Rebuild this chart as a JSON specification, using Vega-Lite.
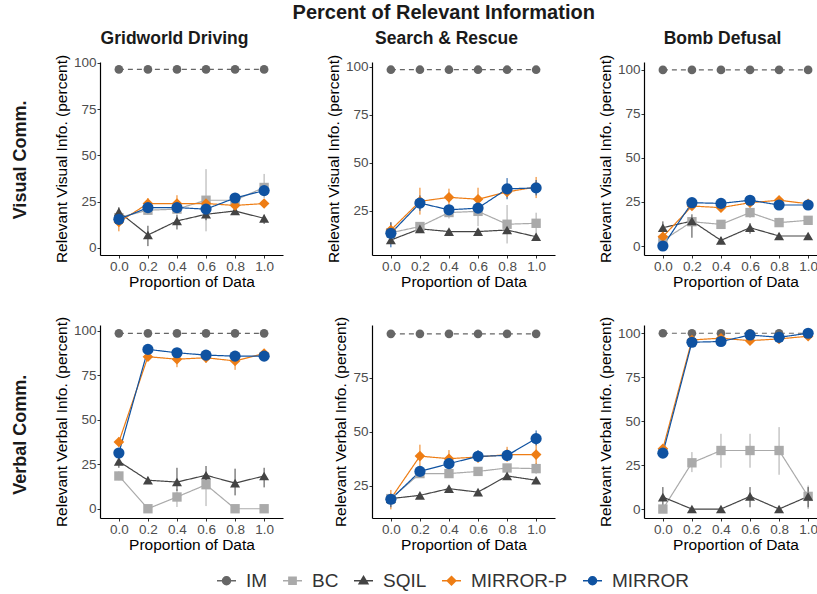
{
"$schema": "https://vega.github.io/schema/vega-lite/v6.json",
"padding": {"left": 12, "top": 2, "right": 5, "bottom": 5},
"background": "white",
"title": {"text": "Percent of Relevant Information", "fontSize": 20, "fontWeight": "bold", "anchor": "middle", "color": "#1a1a1a", "offset": 7, "dx": 24},
"config": {
  "font": "Liberation Sans",
  "view": {"stroke": null},
  "axis": {"grid": false, "domainColor": "#000000", "domainWidth": 1.2, "tickColor": "#333333", "tickSize": 3, "labelColor": "#4d4d4d", "labelFontSize": 13.5, "titleFontSize": 15.5, "titleFontWeight": "normal", "titleColor": "#000000", "labelPadding": 1},
  "axisX": {"titlePadding": 2},
  "axisY": {"titlePadding": 4}
},
"datasets": {"d": [
{"e":"GD","c":"V","m":"IM","p":0,"v":96.5,"lo":96.5,"hi":96.5},
{"e":"GD","c":"V","m":"IM","p":0.2,"v":96.5,"lo":96.5,"hi":96.5},
{"e":"GD","c":"V","m":"IM","p":0.4,"v":96.5,"lo":96.5,"hi":96.5},
{"e":"GD","c":"V","m":"IM","p":0.6,"v":96.5,"lo":96.5,"hi":96.5},
{"e":"GD","c":"V","m":"IM","p":0.8,"v":96.5,"lo":96.5,"hi":96.5},
{"e":"GD","c":"V","m":"IM","p":1,"v":96.5,"lo":96.5,"hi":96.5},
{"e":"GD","c":"V","m":"BC","p":0,"v":16.4,"lo":15,"hi":18},
{"e":"GD","c":"V","m":"BC","p":0.2,"v":20.4,"lo":18,"hi":23},
{"e":"GD","c":"V","m":"BC","p":0.4,"v":21,"lo":19,"hi":23},
{"e":"GD","c":"V","m":"BC","p":0.6,"v":25.8,"lo":9,"hi":42.6},
{"e":"GD","c":"V","m":"BC","p":0.8,"v":25.8,"lo":24,"hi":28},
{"e":"GD","c":"V","m":"BC","p":1,"v":32.7,"lo":27,"hi":40},
{"e":"GD","c":"V","m":"SQIL","p":0,"v":19.5,"lo":17,"hi":22},
{"e":"GD","c":"V","m":"SQIL","p":0.2,"v":7,"lo":1,"hi":12},
{"e":"GD","c":"V","m":"SQIL","p":0.4,"v":14.6,"lo":10,"hi":18},
{"e":"GD","c":"V","m":"SQIL","p":0.6,"v":18.2,"lo":15,"hi":21},
{"e":"GD","c":"V","m":"SQIL","p":0.8,"v":20,"lo":18,"hi":22},
{"e":"GD","c":"V","m":"SQIL","p":1,"v":16,"lo":13,"hi":18},
{"e":"GD","c":"V","m":"MIRROR-P","p":0,"v":14,"lo":9,"hi":18},
{"e":"GD","c":"V","m":"MIRROR-P","p":0.2,"v":24,"lo":21,"hi":27},
{"e":"GD","c":"V","m":"MIRROR-P","p":0.4,"v":24,"lo":20,"hi":28.5},
{"e":"GD","c":"V","m":"MIRROR-P","p":0.6,"v":24,"lo":22,"hi":26},
{"e":"GD","c":"V","m":"MIRROR-P","p":0.8,"v":23,"lo":21,"hi":25},
{"e":"GD","c":"V","m":"MIRROR-P","p":1,"v":24,"lo":23,"hi":25},
{"e":"GD","c":"V","m":"MIRROR","p":0,"v":15.5,"lo":13,"hi":18},
{"e":"GD","c":"V","m":"MIRROR","p":0.2,"v":21.8,"lo":19,"hi":25},
{"e":"GD","c":"V","m":"MIRROR","p":0.4,"v":21.8,"lo":19,"hi":24},
{"e":"GD","c":"V","m":"MIRROR","p":0.6,"v":21,"lo":18,"hi":24},
{"e":"GD","c":"V","m":"MIRROR","p":0.8,"v":27,"lo":25,"hi":29},
{"e":"GD","c":"V","m":"MIRROR","p":1,"v":31,"lo":29,"hi":33},

{"e":"SR","c":"V","m":"IM","p":0,"v":98.4,"lo":98.4,"hi":98.4},
{"e":"SR","c":"V","m":"IM","p":0.2,"v":98.4,"lo":98.4,"hi":98.4},
{"e":"SR","c":"V","m":"IM","p":0.4,"v":98.4,"lo":98.4,"hi":98.4},
{"e":"SR","c":"V","m":"IM","p":0.6,"v":98.4,"lo":98.4,"hi":98.4},
{"e":"SR","c":"V","m":"IM","p":0.8,"v":98.4,"lo":98.4,"hi":98.4},
{"e":"SR","c":"V","m":"IM","p":1,"v":98.4,"lo":98.4,"hi":98.4},
{"e":"SR","c":"V","m":"BC","p":0,"v":13.6,"lo":11,"hi":16},
{"e":"SR","c":"V","m":"BC","p":0.2,"v":16.8,"lo":14,"hi":19},
{"e":"SR","c":"V","m":"BC","p":0.4,"v":24.1,"lo":21,"hi":27},
{"e":"SR","c":"V","m":"BC","p":0.6,"v":24.7,"lo":17,"hi":33},
{"e":"SR","c":"V","m":"BC","p":0.8,"v":18,"lo":8,"hi":28},
{"e":"SR","c":"V","m":"BC","p":1,"v":18.5,"lo":12,"hi":24},
{"e":"SR","c":"V","m":"SQIL","p":0,"v":9.8,"lo":8,"hi":12},
{"e":"SR","c":"V","m":"SQIL","p":0.2,"v":15.6,"lo":14,"hi":17},
{"e":"SR","c":"V","m":"SQIL","p":0.4,"v":14.2,"lo":13,"hi":15.5},
{"e":"SR","c":"V","m":"SQIL","p":0.6,"v":14.2,"lo":13,"hi":15.5},
{"e":"SR","c":"V","m":"SQIL","p":0.8,"v":15,"lo":13,"hi":17},
{"e":"SR","c":"V","m":"SQIL","p":1,"v":11.5,"lo":10,"hi":13},
{"e":"SR","c":"V","m":"MIRROR-P","p":0,"v":15,"lo":10,"hi":19},
{"e":"SR","c":"V","m":"MIRROR-P","p":0.2,"v":29.9,"lo":23,"hi":37},
{"e":"SR","c":"V","m":"MIRROR-P","p":0.4,"v":32,"lo":28,"hi":36.5},
{"e":"SR","c":"V","m":"MIRROR-P","p":0.6,"v":31,"lo":26,"hi":37},
{"e":"SR","c":"V","m":"MIRROR-P","p":0.8,"v":34.8,"lo":32,"hi":37},
{"e":"SR","c":"V","m":"MIRROR-P","p":1,"v":37.4,"lo":31.6,"hi":42.6},
{"e":"SR","c":"V","m":"MIRROR","p":0,"v":13.3,"lo":6,"hi":19},
{"e":"SR","c":"V","m":"MIRROR","p":0.2,"v":29,"lo":25,"hi":33},
{"e":"SR","c":"V","m":"MIRROR","p":0.4,"v":25.5,"lo":23,"hi":28},
{"e":"SR","c":"V","m":"MIRROR","p":0.6,"v":26.4,"lo":24,"hi":29},
{"e":"SR","c":"V","m":"MIRROR","p":0.8,"v":36.4,"lo":31,"hi":42},
{"e":"SR","c":"V","m":"MIRROR","p":1,"v":36.9,"lo":33,"hi":41},

{"e":"BD","c":"V","m":"IM","p":0,"v":100,"lo":100,"hi":100},
{"e":"BD","c":"V","m":"IM","p":0.2,"v":100,"lo":100,"hi":100},
{"e":"BD","c":"V","m":"IM","p":0.4,"v":100,"lo":100,"hi":100},
{"e":"BD","c":"V","m":"IM","p":0.6,"v":100,"lo":100,"hi":100},
{"e":"BD","c":"V","m":"IM","p":0.8,"v":100,"lo":100,"hi":100},
{"e":"BD","c":"V","m":"IM","p":1,"v":100,"lo":100,"hi":100},
{"e":"BD","c":"V","m":"BC","p":0,"v":3.2,"lo":1,"hi":5.5},
{"e":"BD","c":"V","m":"BC","p":0.2,"v":13.8,"lo":11,"hi":16},
{"e":"BD","c":"V","m":"BC","p":0.4,"v":12.3,"lo":10.5,"hi":14},
{"e":"BD","c":"V","m":"BC","p":0.6,"v":19,"lo":16,"hi":22},
{"e":"BD","c":"V","m":"BC","p":0.8,"v":13.3,"lo":11,"hi":16},
{"e":"BD","c":"V","m":"BC","p":1,"v":14.6,"lo":13,"hi":16},
{"e":"BD","c":"V","m":"SQIL","p":0,"v":10.4,"lo":7,"hi":14},
{"e":"BD","c":"V","m":"SQIL","p":0.2,"v":14.2,"lo":4.7,"hi":18},
{"e":"BD","c":"V","m":"SQIL","p":0.4,"v":3.2,"lo":1,"hi":5},
{"e":"BD","c":"V","m":"SQIL","p":0.6,"v":10.4,"lo":7,"hi":13},
{"e":"BD","c":"V","m":"SQIL","p":0.8,"v":5.7,"lo":4,"hi":7},
{"e":"BD","c":"V","m":"SQIL","p":1,"v":5.7,"lo":4,"hi":7},
{"e":"BD","c":"V","m":"MIRROR-P","p":0,"v":5.3,"lo":3,"hi":7.5},
{"e":"BD","c":"V","m":"MIRROR-P","p":0.2,"v":22.7,"lo":21,"hi":24.5},
{"e":"BD","c":"V","m":"MIRROR-P","p":0.4,"v":21.8,"lo":20,"hi":23.5},
{"e":"BD","c":"V","m":"MIRROR-P","p":0.6,"v":24.6,"lo":23,"hi":26},
{"e":"BD","c":"V","m":"MIRROR-P","p":0.8,"v":26,"lo":24.5,"hi":27.5},
{"e":"BD","c":"V","m":"MIRROR-P","p":1,"v":24,"lo":23,"hi":25},
{"e":"BD","c":"V","m":"MIRROR","p":0,"v":0,"lo":0,"hi":1.5},
{"e":"BD","c":"V","m":"MIRROR","p":0.2,"v":24.6,"lo":23,"hi":26},
{"e":"BD","c":"V","m":"MIRROR","p":0.4,"v":24.2,"lo":22.5,"hi":26},
{"e":"BD","c":"V","m":"MIRROR","p":0.6,"v":26,"lo":24.5,"hi":27.5},
{"e":"BD","c":"V","m":"MIRROR","p":0.8,"v":23.3,"lo":22,"hi":24.5},
{"e":"BD","c":"V","m":"MIRROR","p":1,"v":23.3,"lo":22,"hi":24.5},

{"e":"GD","c":"B","m":"IM","p":0,"v":98.5,"lo":98.5,"hi":98.5},
{"e":"GD","c":"B","m":"IM","p":0.2,"v":98.5,"lo":98.5,"hi":98.5},
{"e":"GD","c":"B","m":"IM","p":0.4,"v":98.5,"lo":98.5,"hi":98.5},
{"e":"GD","c":"B","m":"IM","p":0.6,"v":98.5,"lo":98.5,"hi":98.5},
{"e":"GD","c":"B","m":"IM","p":0.8,"v":98.5,"lo":98.5,"hi":98.5},
{"e":"GD","c":"B","m":"IM","p":1,"v":98.5,"lo":98.5,"hi":98.5},
{"e":"GD","c":"B","m":"BC","p":0,"v":18.4,"lo":16,"hi":21},
{"e":"GD","c":"B","m":"BC","p":0.2,"v":0,"lo":0,"hi":0},
{"e":"GD","c":"B","m":"BC","p":0.4,"v":6.6,"lo":1,"hi":11},
{"e":"GD","c":"B","m":"BC","p":0.6,"v":13.5,"lo":1.5,"hi":20.6},
{"e":"GD","c":"B","m":"BC","p":0.8,"v":0,"lo":0,"hi":0},
{"e":"GD","c":"B","m":"BC","p":1,"v":0,"lo":0,"hi":0},
{"e":"GD","c":"B","m":"SQIL","p":0,"v":26.6,"lo":23,"hi":30},
{"e":"GD","c":"B","m":"SQIL","p":0.2,"v":16,"lo":14,"hi":18},
{"e":"GD","c":"B","m":"SQIL","p":0.4,"v":15,"lo":10,"hi":23},
{"e":"GD","c":"B","m":"SQIL","p":0.6,"v":18.8,"lo":14,"hi":24},
{"e":"GD","c":"B","m":"SQIL","p":0.8,"v":14.4,"lo":7.5,"hi":22.5},
{"e":"GD","c":"B","m":"SQIL","p":1,"v":18.4,"lo":12,"hi":23},
{"e":"GD","c":"B","m":"MIRROR-P","p":0,"v":37.5,"lo":35,"hi":40},
{"e":"GD","c":"B","m":"MIRROR-P","p":0.2,"v":85.4,"lo":83,"hi":88},
{"e":"GD","c":"B","m":"MIRROR-P","p":0.4,"v":84,"lo":79.5,"hi":87},
{"e":"GD","c":"B","m":"MIRROR-P","p":0.6,"v":84.8,"lo":82,"hi":87.5},
{"e":"GD","c":"B","m":"MIRROR-P","p":0.8,"v":83,"lo":78,"hi":86},
{"e":"GD","c":"B","m":"MIRROR-P","p":1,"v":87.2,"lo":85,"hi":89},
{"e":"GD","c":"B","m":"MIRROR","p":0,"v":31.3,"lo":29,"hi":33.5},
{"e":"GD","c":"B","m":"MIRROR","p":0.2,"v":89.5,"lo":87.5,"hi":91.5},
{"e":"GD","c":"B","m":"MIRROR","p":0.4,"v":87.6,"lo":86,"hi":89},
{"e":"GD","c":"B","m":"MIRROR","p":0.6,"v":86.3,"lo":83.5,"hi":89},
{"e":"GD","c":"B","m":"MIRROR","p":0.8,"v":85.7,"lo":84,"hi":87.5},
{"e":"GD","c":"B","m":"MIRROR","p":1,"v":85.7,"lo":83.5,"hi":88},

{"e":"SR","c":"B","m":"IM","p":0,"v":95.4,"lo":95.4,"hi":95.4},
{"e":"SR","c":"B","m":"IM","p":0.2,"v":95.4,"lo":95.4,"hi":95.4},
{"e":"SR","c":"B","m":"IM","p":0.4,"v":95.4,"lo":95.4,"hi":95.4},
{"e":"SR","c":"B","m":"IM","p":0.6,"v":95.4,"lo":95.4,"hi":95.4},
{"e":"SR","c":"B","m":"IM","p":0.8,"v":95.4,"lo":95.4,"hi":95.4},
{"e":"SR","c":"B","m":"IM","p":1,"v":95.4,"lo":95.4,"hi":95.4},
{"e":"SR","c":"B","m":"BC","p":0,"v":19,"lo":17,"hi":21},
{"e":"SR","c":"B","m":"BC","p":0.2,"v":30.6,"lo":29,"hi":32},
{"e":"SR","c":"B","m":"BC","p":0.4,"v":30.6,"lo":29,"hi":32},
{"e":"SR","c":"B","m":"BC","p":0.6,"v":31.6,"lo":30,"hi":33},
{"e":"SR","c":"B","m":"BC","p":0.8,"v":33.2,"lo":31.5,"hi":35},
{"e":"SR","c":"B","m":"BC","p":1,"v":32.9,"lo":30.5,"hi":35.5},
{"e":"SR","c":"B","m":"SQIL","p":0,"v":19,"lo":17.5,"hi":20.5},
{"e":"SR","c":"B","m":"SQIL","p":0.2,"v":20.5,"lo":19.5,"hi":21.5},
{"e":"SR","c":"B","m":"SQIL","p":0.4,"v":23.6,"lo":22,"hi":25},
{"e":"SR","c":"B","m":"SQIL","p":0.6,"v":22,"lo":21,"hi":23},
{"e":"SR","c":"B","m":"SQIL","p":0.8,"v":29.5,"lo":28,"hi":31},
{"e":"SR","c":"B","m":"SQIL","p":1,"v":27.5,"lo":26.5,"hi":28.5},
{"e":"SR","c":"B","m":"MIRROR-P","p":0,"v":19,"lo":14,"hi":23},
{"e":"SR","c":"B","m":"MIRROR-P","p":0.2,"v":38.7,"lo":33,"hi":44},
{"e":"SR","c":"B","m":"MIRROR-P","p":0.4,"v":37.5,"lo":33,"hi":41.5},
{"e":"SR","c":"B","m":"MIRROR-P","p":0.6,"v":38.3,"lo":35.5,"hi":41},
{"e":"SR","c":"B","m":"MIRROR-P","p":0.8,"v":39.4,"lo":36,"hi":43},
{"e":"SR","c":"B","m":"MIRROR-P","p":1,"v":39.4,"lo":34.4,"hi":46},
{"e":"SR","c":"B","m":"MIRROR","p":0,"v":18.7,"lo":15,"hi":21},
{"e":"SR","c":"B","m":"MIRROR","p":0.2,"v":31.6,"lo":29,"hi":34},
{"e":"SR","c":"B","m":"MIRROR","p":0.4,"v":35.2,"lo":33,"hi":37.5},
{"e":"SR","c":"B","m":"MIRROR","p":0.6,"v":38.6,"lo":36,"hi":41.5},
{"e":"SR","c":"B","m":"MIRROR","p":0.8,"v":39,"lo":36.5,"hi":41.5},
{"e":"SR","c":"B","m":"MIRROR","p":1,"v":46.8,"lo":43.7,"hi":50.6},

{"e":"BD","c":"B","m":"IM","p":0,"v":100,"lo":100,"hi":100},
{"e":"BD","c":"B","m":"IM","p":0.2,"v":100,"lo":100,"hi":100},
{"e":"BD","c":"B","m":"IM","p":0.4,"v":100,"lo":100,"hi":100},
{"e":"BD","c":"B","m":"IM","p":0.6,"v":100,"lo":100,"hi":100},
{"e":"BD","c":"B","m":"IM","p":0.8,"v":100,"lo":100,"hi":100},
{"e":"BD","c":"B","m":"IM","p":1,"v":100,"lo":100,"hi":100},
{"e":"BD","c":"B","m":"BC","p":0,"v":0,"lo":0,"hi":0},
{"e":"BD","c":"B","m":"BC","p":0.2,"v":26.3,"lo":21,"hi":32.4},
{"e":"BD","c":"B","m":"BC","p":0.4,"v":33.3,"lo":23.5,"hi":42.8},
{"e":"BD","c":"B","m":"BC","p":0.6,"v":33.3,"lo":23.5,"hi":42.8},
{"e":"BD","c":"B","m":"BC","p":0.8,"v":33.3,"lo":19.5,"hi":46.6},
{"e":"BD","c":"B","m":"BC","p":1,"v":7.2,"lo":0,"hi":13.4},
{"e":"BD","c":"B","m":"SQIL","p":0,"v":6.8,"lo":1,"hi":12.5},
{"e":"BD","c":"B","m":"SQIL","p":0.2,"v":0,"lo":0,"hi":0},
{"e":"BD","c":"B","m":"SQIL","p":0.4,"v":0,"lo":0,"hi":0},
{"e":"BD","c":"B","m":"SQIL","p":0.6,"v":7.2,"lo":1,"hi":12.5},
{"e":"BD","c":"B","m":"SQIL","p":0.8,"v":0,"lo":0,"hi":0},
{"e":"BD","c":"B","m":"SQIL","p":1,"v":7.2,"lo":1,"hi":12.5},
{"e":"BD","c":"B","m":"MIRROR-P","p":0,"v":34.3,"lo":32.5,"hi":36},
{"e":"BD","c":"B","m":"MIRROR-P","p":0.2,"v":96.2,"lo":95,"hi":97.5},
{"e":"BD","c":"B","m":"MIRROR-P","p":0.4,"v":97.2,"lo":96,"hi":98.5},
{"e":"BD","c":"B","m":"MIRROR-P","p":0.6,"v":95.8,"lo":94.5,"hi":97},
{"e":"BD","c":"B","m":"MIRROR-P","p":0.8,"v":96.8,"lo":95.5,"hi":98},
{"e":"BD","c":"B","m":"MIRROR-P","p":1,"v":98.3,"lo":97,"hi":99.5},
{"e":"BD","c":"B","m":"MIRROR","p":0,"v":31.8,"lo":30.5,"hi":33},
{"e":"BD","c":"B","m":"MIRROR","p":0.2,"v":94.9,"lo":93.5,"hi":96.3},
{"e":"BD","c":"B","m":"MIRROR","p":0.4,"v":95.3,"lo":94,"hi":96.5},
{"e":"BD","c":"B","m":"MIRROR","p":0.6,"v":99,"lo":97.5,"hi":100},
{"e":"BD","c":"B","m":"MIRROR","p":0.8,"v":97.7,"lo":96.5,"hi":99},
{"e":"BD","c":"B","m":"MIRROR","p":1,"v":100,"lo":99,"hi":100}
]},
"data": {"name": "d"},
"spacing": 26,
"vconcat": [
{
 "title": {"text": "Visual Comm.", "orient": "left", "anchor": "middle", "fontSize": 18, "fontWeight": "bold", "color": "#1a1a1a", "offset": 24},
 "bounds": "flush",
 "spacing": 89,
 "hconcat": [
  {
   "width": 183, "height": 193,
   "title": {"text": "Gridworld Driving", "fontSize": 17.5, "fontWeight": "bold", "color": "#1a1a1a", "offset": 7, "dx": -17},
   "transform": [{"filter": "datum.e === 'GD' && datum.c === 'V'"}],
   "encoding": {
    "x": {"field": "p", "type": "quantitative", "scale": {"domain": [-0.13, 1.13], "nice": false, "zero": false}, "axis": {"values": [0, 0.2, 0.4, 0.6, 0.8, 1], "format": ".1f", "title": "Proportion of Data"}},
    "y": {"field": "v", "type": "quantitative", "scale": {"domain": [-3.8, 100.5], "nice": false, "zero": false}, "axis": {"values": [0, 25, 50, 75, 100]}, "title": "Relevant Visual Info. (percent)"},
    "color": {"field": "m", "type": "nominal", "scale": {"domain": ["IM", "BC", "SQIL", "MIRROR-P", "MIRROR"], "range": ["#666666", "#AAAAAA", "#444444", "#EE7D14", "#0F52A1"]},
     "legend": {"title": null, "orient": "none", "legendX": 116, "legendY": 508, "direction": "horizontal", "labelFontSize": 19, "labelColor": "#333333", "symbolSize": 361, "symbolStrokeWidth": 1.5, "labelOffset": 9, "columnPadding": 12,
      "encoding": {"symbols": {
        "shape": {"value": {"expr": "datum.value === 'BC' ? 'M-1,0L1,0M-0.38,-0.38L0.38,-0.38L0.38,0.38L-0.38,0.38Z' : datum.value === 'SQIL' ? 'M-1,0L1,0M0,-0.46L0.46,0.32L-0.46,0.32Z' : datum.value === 'MIRROR-P' ? 'M-1,0L1,0M0,-0.45L0.45,0L0,0.45L-0.45,0Z' : 'M-1,0L1,0M0.42,0A0.42,0.42,0,1,1,-0.42,0A0.42,0.42,0,1,1,0.42,0Z'"}},
        "size": {"value": 361},
        "fill": {"value": {"expr": "scale('color', datum.value)"}},
        "stroke": {"value": {"expr": "scale('color', datum.value)"}},
        "strokeWidth": {"value": 1.5},
        "opacity": {"value": 1}}}}}
   },
   "layer": [
    {"mark": {"type": "line", "strokeWidth": 1.2}, "encoding": {"strokeDash": {"field": "m", "type": "nominal", "scale": {"domain": ["MIRROR", "MIRROR-P", "SQIL", "BC", "IM"], "range": [[1, 0], [1, 0], [1, 0], [1, 0], [5, 4]]}, "legend": null}}},
    {"mark": {"type": "rule", "strokeWidth": 1}, "encoding": {"y": {"field": "lo", "type": "quantitative", "title": "Relevant Visual Info. (percent)"}, "y2": {"field": "hi"}}},
    {"mark": {"type": "point", "filled": true, "opacity": 1}, "encoding": {
      "shape": {"field": "m", "type": "nominal", "scale": {"domain": ["MIRROR", "MIRROR-P", "SQIL", "BC", "IM"], "range": ["circle", "diamond", "triangle-up", "square", "circle"]}, "legend": null},
      "size": {"field": "m", "type": "nominal", "scale": {"domain": ["MIRROR", "MIRROR-P", "SQIL", "BC", "IM"], "range": [125, 75, 120, 100, 80]}, "legend": null}}}
   ]
  },
  {
   "width": 183, "height": 193,
   "title": {"text": "Search & Rescue", "fontSize": 17.5, "fontWeight": "bold", "color": "#1a1a1a", "offset": 7, "dx": -17},
   "transform": [{"filter": "datum.e === 'SR' && datum.c === 'V'"}],
   "encoding": {
    "x": {"field": "p", "type": "quantitative", "scale": {"domain": [-0.13, 1.13], "nice": false, "zero": false}, "axis": {"values": [0, 0.2, 0.4, 0.6, 0.8, 1], "format": ".1f", "title": "Proportion of Data"}},
    "y": {"field": "v", "type": "quantitative", "scale": {"domain": [2, 102.4], "nice": false, "zero": false}, "axis": {"values": [25, 50, 75, 100]}, "title": "Relevant Visual Info. (percent)"},
    "color": {"field": "m", "type": "nominal", "scale": {"domain": ["IM", "BC", "SQIL", "MIRROR-P", "MIRROR"], "range": ["#666666", "#AAAAAA", "#444444", "#EE7D14", "#0F52A1"]}}
   },
   "layer": [
    {"mark": {"type": "line", "strokeWidth": 1.2}, "encoding": {"strokeDash": {"field": "m", "type": "nominal", "scale": {"domain": ["MIRROR", "MIRROR-P", "SQIL", "BC", "IM"], "range": [[1, 0], [1, 0], [1, 0], [1, 0], [5, 4]]}, "legend": null}}},
    {"mark": {"type": "rule", "strokeWidth": 1}, "encoding": {"y": {"field": "lo", "type": "quantitative", "title": "Relevant Visual Info. (percent)"}, "y2": {"field": "hi"}}},
    {"mark": {"type": "point", "filled": true, "opacity": 1}, "encoding": {
      "shape": {"field": "m", "type": "nominal", "scale": {"domain": ["MIRROR", "MIRROR-P", "SQIL", "BC", "IM"], "range": ["circle", "diamond", "triangle-up", "square", "circle"]}, "legend": null},
      "size": {"field": "m", "type": "nominal", "scale": {"domain": ["MIRROR", "MIRROR-P", "SQIL", "BC", "IM"], "range": [125, 75, 120, 100, 80]}, "legend": null}}}
   ]
  },
  {
   "width": 183, "height": 193,
   "title": {"text": "Bomb Defusal", "fontSize": 17.5, "fontWeight": "bold", "color": "#1a1a1a", "offset": 7, "dx": -13},
   "transform": [{"filter": "datum.e === 'BD' && datum.c === 'V'"}],
   "encoding": {
    "x": {"field": "p", "type": "quantitative", "scale": {"domain": [-0.13, 1.13], "nice": false, "zero": false}, "axis": {"values": [0, 0.2, 0.4, 0.6, 0.8, 1], "format": ".1f", "title": "Proportion of Data"}},
    "y": {"field": "v", "type": "quantitative", "scale": {"domain": [-5.1, 104.5], "nice": false, "zero": false}, "axis": {"values": [0, 25, 50, 75, 100]}, "title": "Relevant Visual Info. (percent)"},
    "color": {"field": "m", "type": "nominal", "scale": {"domain": ["IM", "BC", "SQIL", "MIRROR-P", "MIRROR"], "range": ["#666666", "#AAAAAA", "#444444", "#EE7D14", "#0F52A1"]}}
   },
   "layer": [
    {"mark": {"type": "line", "strokeWidth": 1.2}, "encoding": {"strokeDash": {"field": "m", "type": "nominal", "scale": {"domain": ["MIRROR", "MIRROR-P", "SQIL", "BC", "IM"], "range": [[1, 0], [1, 0], [1, 0], [1, 0], [5, 4]]}, "legend": null}}},
    {"mark": {"type": "rule", "strokeWidth": 1}, "encoding": {"y": {"field": "lo", "type": "quantitative", "title": "Relevant Visual Info. (percent)"}, "y2": {"field": "hi"}}},
    {"mark": {"type": "point", "filled": true, "opacity": 1}, "encoding": {
      "shape": {"field": "m", "type": "nominal", "scale": {"domain": ["MIRROR", "MIRROR-P", "SQIL", "BC", "IM"], "range": ["circle", "diamond", "triangle-up", "square", "circle"]}, "legend": null},
      "size": {"field": "m", "type": "nominal", "scale": {"domain": ["MIRROR", "MIRROR-P", "SQIL", "BC", "IM"], "range": [125, 75, 120, 100, 80]}, "legend": null}}}
   ]
  }
 ]
},
{
 "title": {"text": "Verbal Comm.", "orient": "left", "anchor": "middle", "fontSize": 18, "fontWeight": "bold", "color": "#1a1a1a", "offset": 24},
 "bounds": "flush",
 "spacing": 89,
 "hconcat": [
  {
   "width": 183, "height": 193,
   "transform": [{"filter": "datum.e === 'GD' && datum.c === 'B'"}],
   "encoding": {
    "x": {"field": "p", "type": "quantitative", "scale": {"domain": [-0.13, 1.13], "nice": false, "zero": false}, "axis": {"values": [0, 0.2, 0.4, 0.6, 0.8, 1], "format": ".1f", "title": "Proportion of Data"}},
    "y": {"field": "v", "type": "quantitative", "scale": {"domain": [-5.2, 103.2], "nice": false, "zero": false}, "axis": {"values": [0, 25, 50, 75, 100]}, "title": "Relevant Verbal Info. (percent)"},
    "color": {"field": "m", "type": "nominal", "scale": {"domain": ["IM", "BC", "SQIL", "MIRROR-P", "MIRROR"], "range": ["#666666", "#AAAAAA", "#444444", "#EE7D14", "#0F52A1"]}}
   },
   "layer": [
    {"mark": {"type": "line", "strokeWidth": 1.2}, "encoding": {"strokeDash": {"field": "m", "type": "nominal", "scale": {"domain": ["MIRROR", "MIRROR-P", "SQIL", "BC", "IM"], "range": [[1, 0], [1, 0], [1, 0], [1, 0], [5, 4]]}, "legend": null}}},
    {"mark": {"type": "rule", "strokeWidth": 1}, "encoding": {"y": {"field": "lo", "type": "quantitative", "title": "Relevant Verbal Info. (percent)"}, "y2": {"field": "hi"}}},
    {"mark": {"type": "point", "filled": true, "opacity": 1}, "encoding": {
      "shape": {"field": "m", "type": "nominal", "scale": {"domain": ["MIRROR", "MIRROR-P", "SQIL", "BC", "IM"], "range": ["circle", "diamond", "triangle-up", "square", "circle"]}, "legend": null},
      "size": {"field": "m", "type": "nominal", "scale": {"domain": ["MIRROR", "MIRROR-P", "SQIL", "BC", "IM"], "range": [125, 75, 120, 100, 80]}, "legend": null}}}
   ]
  },
  {
   "width": 183, "height": 193,
   "transform": [{"filter": "datum.e === 'SR' && datum.c === 'B'"}],
   "encoding": {
    "x": {"field": "p", "type": "quantitative", "scale": {"domain": [-0.13, 1.13], "nice": false, "zero": false}, "axis": {"values": [0, 0.2, 0.4, 0.6, 0.8, 1], "format": ".1f", "title": "Proportion of Data"}},
    "y": {"field": "v", "type": "quantitative", "scale": {"domain": [10, 99.5], "nice": false, "zero": false}, "axis": {"values": [25, 50, 75]}, "title": "Relevant Verbal Info. (percent)"},
    "color": {"field": "m", "type": "nominal", "scale": {"domain": ["IM", "BC", "SQIL", "MIRROR-P", "MIRROR"], "range": ["#666666", "#AAAAAA", "#444444", "#EE7D14", "#0F52A1"]}}
   },
   "layer": [
    {"mark": {"type": "line", "strokeWidth": 1.2}, "encoding": {"strokeDash": {"field": "m", "type": "nominal", "scale": {"domain": ["MIRROR", "MIRROR-P", "SQIL", "BC", "IM"], "range": [[1, 0], [1, 0], [1, 0], [1, 0], [5, 4]]}, "legend": null}}},
    {"mark": {"type": "rule", "strokeWidth": 1}, "encoding": {"y": {"field": "lo", "type": "quantitative", "title": "Relevant Verbal Info. (percent)"}, "y2": {"field": "hi"}}},
    {"mark": {"type": "point", "filled": true, "opacity": 1}, "encoding": {
      "shape": {"field": "m", "type": "nominal", "scale": {"domain": ["MIRROR", "MIRROR-P", "SQIL", "BC", "IM"], "range": ["circle", "diamond", "triangle-up", "square", "circle"]}, "legend": null},
      "size": {"field": "m", "type": "nominal", "scale": {"domain": ["MIRROR", "MIRROR-P", "SQIL", "BC", "IM"], "range": [125, 75, 120, 100, 80]}, "legend": null}}}
   ]
  },
  {
   "width": 183, "height": 193,
   "transform": [{"filter": "datum.e === 'BD' && datum.c === 'B'"}],
   "encoding": {
    "x": {"field": "p", "type": "quantitative", "scale": {"domain": [-0.13, 1.13], "nice": false, "zero": false}, "axis": {"values": [0, 0.2, 0.4, 0.6, 0.8, 1], "format": ".1f", "title": "Proportion of Data"}},
    "y": {"field": "v", "type": "quantitative", "scale": {"domain": [-5.1, 104.7], "nice": false, "zero": false}, "axis": {"values": [0, 25, 50, 75, 100]}, "title": "Relevant Verbal Info. (percent)"},
    "color": {"field": "m", "type": "nominal", "scale": {"domain": ["IM", "BC", "SQIL", "MIRROR-P", "MIRROR"], "range": ["#666666", "#AAAAAA", "#444444", "#EE7D14", "#0F52A1"]}}
   },
   "layer": [
    {"mark": {"type": "line", "strokeWidth": 1.2}, "encoding": {"strokeDash": {"field": "m", "type": "nominal", "scale": {"domain": ["MIRROR", "MIRROR-P", "SQIL", "BC", "IM"], "range": [[1, 0], [1, 0], [1, 0], [1, 0], [5, 4]]}, "legend": null}}},
    {"mark": {"type": "rule", "strokeWidth": 1}, "encoding": {"y": {"field": "lo", "type": "quantitative", "title": "Relevant Verbal Info. (percent)"}, "y2": {"field": "hi"}}},
    {"mark": {"type": "point", "filled": true, "opacity": 1}, "encoding": {
      "shape": {"field": "m", "type": "nominal", "scale": {"domain": ["MIRROR", "MIRROR-P", "SQIL", "BC", "IM"], "range": ["circle", "diamond", "triangle-up", "square", "circle"]}, "legend": null},
      "size": {"field": "m", "type": "nominal", "scale": {"domain": ["MIRROR", "MIRROR-P", "SQIL", "BC", "IM"], "range": [125, 75, 120, 100, 80]}, "legend": null}}}
   ]
  }
 ]
}
]
}
